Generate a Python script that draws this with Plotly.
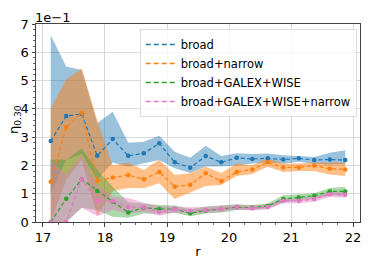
import plotly.graph_objects as go

r = [17.125, 17.375, 17.625, 17.875, 18.125, 18.375, 18.625, 18.875, 19.125, 19.375,
     19.625, 19.875, 20.125, 20.375, 20.625, 20.875, 21.125, 21.375, 21.625, 21.875]

# values in units of 1e-1
broad = [2.86, 3.75, 3.82, 2.34, 2.93, 2.34, 2.43, 2.78, 2.11, 1.92,
         2.33, 2.11, 2.27, 2.23, 2.25, 2.21, 2.25, 2.19, 2.21, 2.19]
broad_hi = [6.6, 5.5, 5.37, 3.5, 3.9, 2.8, 2.84, 3.05, 2.48, 2.27,
            2.7, 2.33, 2.43, 2.4, 2.42, 2.36, 2.33, 2.3, 2.45, 2.54]
broad_lo = [1.0, 2.2, 2.4, 1.5, 2.1, 1.95, 2.07, 2.19, 1.9, 1.73,
            1.96, 1.96, 2.0, 2.07, 2.1, 2.06, 2.13, 2.06, 2.02, 2.04]

narrow = [1.42, 3.35, 3.86, 1.45, 1.57, 1.66, 1.51, 1.77, 1.25, 1.32,
          1.72, 1.44, 1.77, 1.86, 2.11, 1.93, 1.93, 2.0, 1.88, 1.86]
narrow_hi = [4.02, 5.04, 5.43, 3.6, 2.0, 2.1, 1.84, 2.2, 1.66, 1.72,
             1.95, 1.73, 2.07, 2.01, 2.25, 2.07, 2.07, 2.1, 2.1, 2.1]
narrow_lo = [0.0, 1.5, 2.2, 0.2, 1.1, 1.2, 1.19, 1.37, 0.81, 1.04,
             1.27, 1.31, 1.63, 1.7, 1.95, 1.77, 1.8, 1.8, 1.68, 1.63]

gw = [0.0, 0.82, 1.51, 1.1, 0.72, 0.34, 0.5, 0.46, 0.46, 0.31,
      0.41, 0.46, 0.52, 0.51, 0.57, 0.81, 0.87, 0.93, 1.08, 1.08]
gw_hi = [2.2, 2.2, 2.6, 1.84, 1.25, 0.7, 0.65, 0.6, 0.58, 0.45,
         0.55, 0.58, 0.63, 0.6, 0.65, 0.95, 0.98, 1.02, 1.2, 1.25]
gw_lo = [0.0, 0.0, 0.5, 0.42, 0.19, 0.15, 0.3, 0.3, 0.33, 0.2,
         0.3, 0.34, 0.42, 0.42, 0.48, 0.7, 0.76, 0.83, 0.95, 0.93]

gwn = [0.0, 0.0, 1.51, 0.74, 0.74, 0.53, 0.52, 0.35, 0.45, 0.4,
       0.42, 0.46, 0.52, 0.49, 0.53, 0.75, 0.75, 0.81, 0.98, 0.96]
gwn_hi = [2.2, 1.66, 2.37, 1.3, 0.9, 0.85, 0.68, 0.55, 0.56, 0.52,
          0.53, 0.57, 0.62, 0.58, 0.62, 0.85, 0.85, 0.9, 1.08, 1.06]
gwn_lo = [0.0, 0.0, 0.5, 0.2, 0.42, 0.3, 0.35, 0.22, 0.33, 0.3,
          0.32, 0.36, 0.43, 0.41, 0.45, 0.66, 0.66, 0.72, 0.88, 0.86]

series = [
    ("broad", broad, broad_hi, broad_lo, "#1f77b4", "rgba(31,119,180,0.45)"),
    ("broad+narrow", narrow, narrow_hi, narrow_lo, "#ff7f0e", "rgba(255,127,14,0.5)"),
    ("broad+GALEX+WISE", gw, gw_hi, gw_lo, "#2ca02c", "rgba(44,160,44,0.4)"),
    ("broad+GALEX+WISE+narrow", gwn, gwn_hi, gwn_lo, "#e377c2", "rgba(227,119,194,0.45)"),
]

scale = 0.1
fig = go.Figure()
for name, v, hi, lo, col, fcol in series:
    fig.add_trace(go.Scatter(
        x=r + r[::-1], y=[h * scale for h in hi] + [l * scale for l in lo[::-1]],
        fill="toself", fillcolor=fcol, line=dict(width=0), mode="lines",
        showlegend=False, hoverinfo="skip"))
for name, v, hi, lo, col, fcol in series:
    fig.add_trace(go.Scatter(
        x=r, y=[a * scale for a in v], mode="lines+markers",
        line=dict(color=col, width=1.2, dash="4px,2.5px"),
        marker=dict(color=col, size=4.5), showlegend=False))
    fig.add_trace(go.Scatter(
        x=[None], y=[None], mode="lines", name=name,
        line=dict(color=col, width=1.6, dash="5px,3px")))

yt = [0, 1, 2, 3, 4, 5, 6, 7]
fig.update_layout(
    width=374, height=262,
    margin=dict(l=36, r=14, t=24, b=40, autoexpand=False),
    paper_bgcolor="white", plot_bgcolor="white",
    font=dict(family="DejaVu Sans", size=13, color="black"),
    legend=dict(x=0.99, y=0.975, xanchor="right", yanchor="top",
                bgcolor="rgba(255,255,255,0.8)", bordercolor="#dddddd", borderwidth=1,
                font=dict(size=11.5), itemwidth=30, tracegroupgap=0),
    xaxis=dict(range=[16.8875, 22.1125], tickvals=[17, 18, 19, 20, 21, 22],
               showgrid=True, gridcolor="#d9d9d9", gridwidth=1, zeroline=False,
               showline=True, linecolor="#444", mirror=True, ticks="outside",
               ticklen=3.5, tickcolor="#444", automargin=False,
               minor=dict(dtick=0.25, ticks="outside", ticklen=2, tickcolor="#666", showgrid=False),
               title=dict(text="r", standoff=2, font=dict(size=13))),
    yaxis=dict(range=[0, 0.7], tickvals=[t * scale for t in yt], ticktext=[str(t) for t in yt],
               showgrid=True, gridcolor="#d9d9d9", gridwidth=1, zeroline=False,
               showline=True, linecolor="#444", mirror=True, ticks="outside",
               ticklen=3.5, tickcolor="#444", automargin=False,
               minor=dict(dtick=0.02, ticks="outside", ticklen=2, tickcolor="#666", showgrid=False)),
    annotations=[
        dict(text="1e\u22121", x=0, y=1, xref="paper", yref="paper",
             xanchor="left", yanchor="bottom", showarrow=False,
             font=dict(size=13), xshift=-3, yshift=-3),
        dict(text="η<sub>0.30</sub>", x=0, y=0.5, xref="paper", yref="paper",
             xanchor="center", yanchor="middle", showarrow=False, textangle=-90,
             font=dict(size=13), xshift=-22, yshift=3),
    ],
)
fig.write_html("out.html", config={"displayModeBar": False},
               post_script="document.body.style.margin='0';document.body.style.padding='0';")
